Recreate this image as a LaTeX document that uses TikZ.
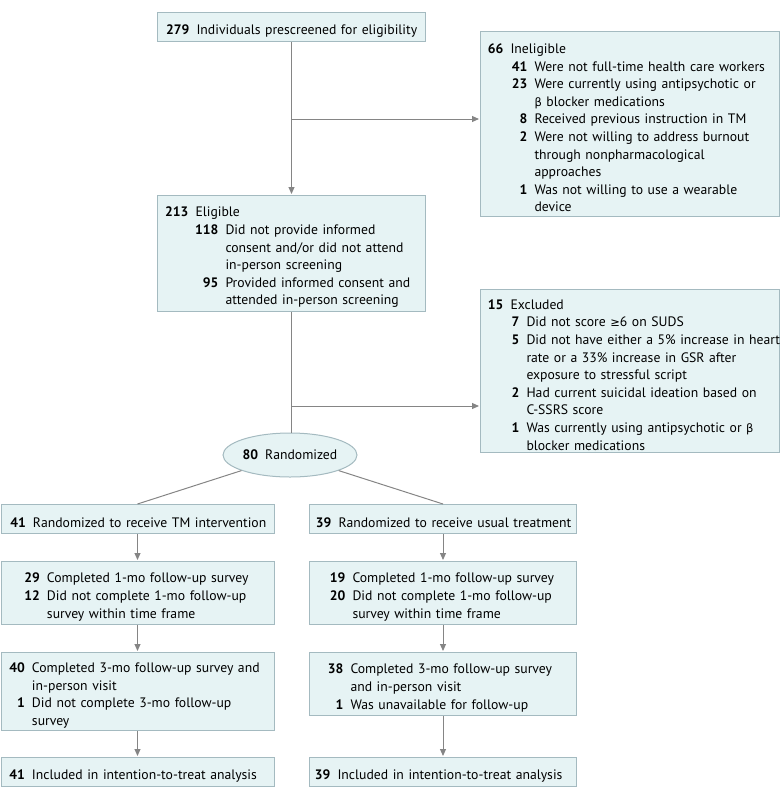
\documentclass[tikz,border=0pt]{standalone}
\usepackage{fontspec}
\setmainfont{PT Sans}
\newfontfamily\symf{DejaVu Sans}
\usetikzlibrary{arrows.meta,shapes.geometric}
\definecolor{boxfill}{HTML}{E6F3F4}
\definecolor{boxline}{HTML}{A4BAC0}
\definecolor{connc}{HTML}{858585}
\newcommand{\rowA}[4]{\par\noindent\hspace*{#1pt}\makebox[#2pt][r]{\bfseries #3}\hspace{7pt}\mbox{#4}}
\newcommand{\rowB}[3]{\par\noindent\hspace*{\dimexpr #1pt+#2pt+7pt\relax}\mbox{#3}}
\newcommand{\gb}{{\symf\fontsize{11.5}{11.5}\selectfont β}}
\newcommand{\gge}{{\symf\fontsize{11.5}{11.5}\selectfont ≥}}
\tikzset{
  box/.style={draw=boxline, fill=boxfill, line width=1pt, inner xsep=0pt, inner ysep=0pt,
    anchor=north west, font=\fontsize{13.7}{17.6}\selectfont},
  ln/.style={draw=connc, line width=1pt},
  arr/.style={ln, -{Triangle[length=7pt,width=6pt]}, shorten >=1pt}
}
\begin{document}
\begin{tikzpicture}[x=1pt,y=-1pt]
\useasboundingbox (0,0) rectangle (780,809);
% top
\node[box, text width=268pt, minimum height=29pt] (b1) at (157,12)
  {\rowA{8}{24}{279}{Individuals prescreened for eligibility}};
\node[box, text width=299pt, minimum height=185pt] (ine) at (480,31)
  {\rowA{7}{16}{66}{Ineligible}
   \rowA{30}{17}{41}{Were not full-time health care workers}
   \rowA{30}{17}{23}{Were currently using antipsychotic or}
   \rowB{30}{17}{\gb\ blocker medications}
   \rowA{30}{17}{8}{Received previous instruction in TM}
   \rowA{30}{17}{2}{Were not willing to address burnout}
   \rowB{30}{17}{through nonpharmacological}
   \rowB{30}{17}{approaches}
   \rowA{30}{17}{1}{Was not willing to use a wearable}
   \rowB{30}{17}{device}};
\node[box, text width=268pt, minimum height=116pt] (b2) at (157,195)
  {\rowA{7}{24}{213}{Eligible}
   \rowA{38}{23}{118}{Did not provide informed}
   \rowB{38}{23}{consent and/or did not attend}
   \rowB{38}{23}{in-person screening}
   \rowA{38}{23}{95}{Provided informed consent and}
   \rowB{38}{23}{attended in-person screening}};
\node[box, text width=299pt, minimum height=163pt] (exc) at (480,289)
  {\rowA{8}{15}{15}{Excluded}
   \rowA{30}{9}{7}{Did not score \gge6 on SUDS}
   \rowA{30}{9}{5}{Did not have either a 5\% increase in heart}
   \rowB{30}{9}{rate or a 33\% increase in GSR after}
   \rowB{30}{9}{exposure to stressful script}
   \rowA{30}{9}{2}{Had current suicidal ideation based on}
   \rowB{30}{9}{C-SSRS score}
   \rowA{30}{9}{1}{Was currently using antipsychotic or \gb}
   \rowB{30}{9}{blocker medications}};
\node[ellipse, draw=boxline, fill=boxfill, line width=1pt, minimum width=134pt, minimum height=44pt,
  inner sep=0pt, font=\fontsize{13.7}{17.6}\selectfont] (ell) at (290,455)
  {\textbf{80}\hspace{7pt}Randomized};
% left column
\node[box, text width=273pt, minimum height=29pt] (L1) at (0.5,504)
  {\rowA{10}{15}{41}{Randomized to receive TM intervention}};
\node[box, text width=273pt, minimum height=63pt] (L2) at (0.5,561)
  {\rowA{23}{16}{29}{Completed 1-mo follow-up survey}
   \rowA{23}{16}{12}{Did not complete 1-mo follow-up}
   \rowB{23}{16}{survey within time frame}};
\node[box, text width=273pt, minimum height=78pt] (L3) at (0.5,652)
  {\rowA{9}{15}{40}{Completed 3-mo follow-up survey and}
   \rowB{9}{15}{in-person visit}
   \rowA{9}{15}{1}{Did not complete 3-mo follow-up}
   \rowB{9}{15}{survey}};
\node[box, text width=273pt, minimum height=29pt] (L4) at (0.5,757)
  {\rowA{9}{15}{41}{Included in intention-to-treat analysis}};
% right column
\node[box, text width=267pt, minimum height=29pt] (R1) at (309,504)
  {\rowA{7}{15}{39}{Randomized to receive usual treatment}};
\node[box, text width=267pt, minimum height=63pt] (R2) at (309,561)
  {\rowA{21}{15}{19}{Completed 1-mo follow-up survey}
   \rowA{21}{15}{20}{Did not complete 1-mo follow-up}
   \rowB{21}{15}{survey within time frame}};
\node[box, text width=267pt, minimum height=63pt] (R3) at (309,652)
  {\rowA{19}{15}{38}{Completed 3-mo follow-up survey}
   \rowB{19}{15}{and in-person visit}
   \rowA{19}{15}{1}{Was unavailable for follow-up}};
\node[box, text width=267pt, minimum height=29pt] (R4) at (309,757)
  {\rowA{8}{13}{39}{Included in intention-to-treat analysis}};
% connectors
\coordinate (j1) at (b1.south |- 0,119);
\coordinate (j2) at (b2.south |- 0,406);
\draw[arr] (b1.south) -- (b2.north);
\draw[arr] (j1) -- (j1 -| ine.west);
\draw[ln] (b2.south) -- (b2.south |- ell.north);
\draw[arr] (j2) -- (j2 -| exc.west);
\draw[ln] (ell) -- (L1.north);
\draw[ln] (ell) -- (R1.north);
\draw[arr] (L1.south) -- (L2.north);
\draw[arr] (L2.south) -- (L3.north);
\draw[arr] (L3.south) -- (L4.north);
\draw[arr] (R1.south) -- (R2.north);
\draw[arr] (R2.south) -- (R3.north);
\draw[arr] (R3.south) -- (R4.north);
\end{tikzpicture}
\end{document}
